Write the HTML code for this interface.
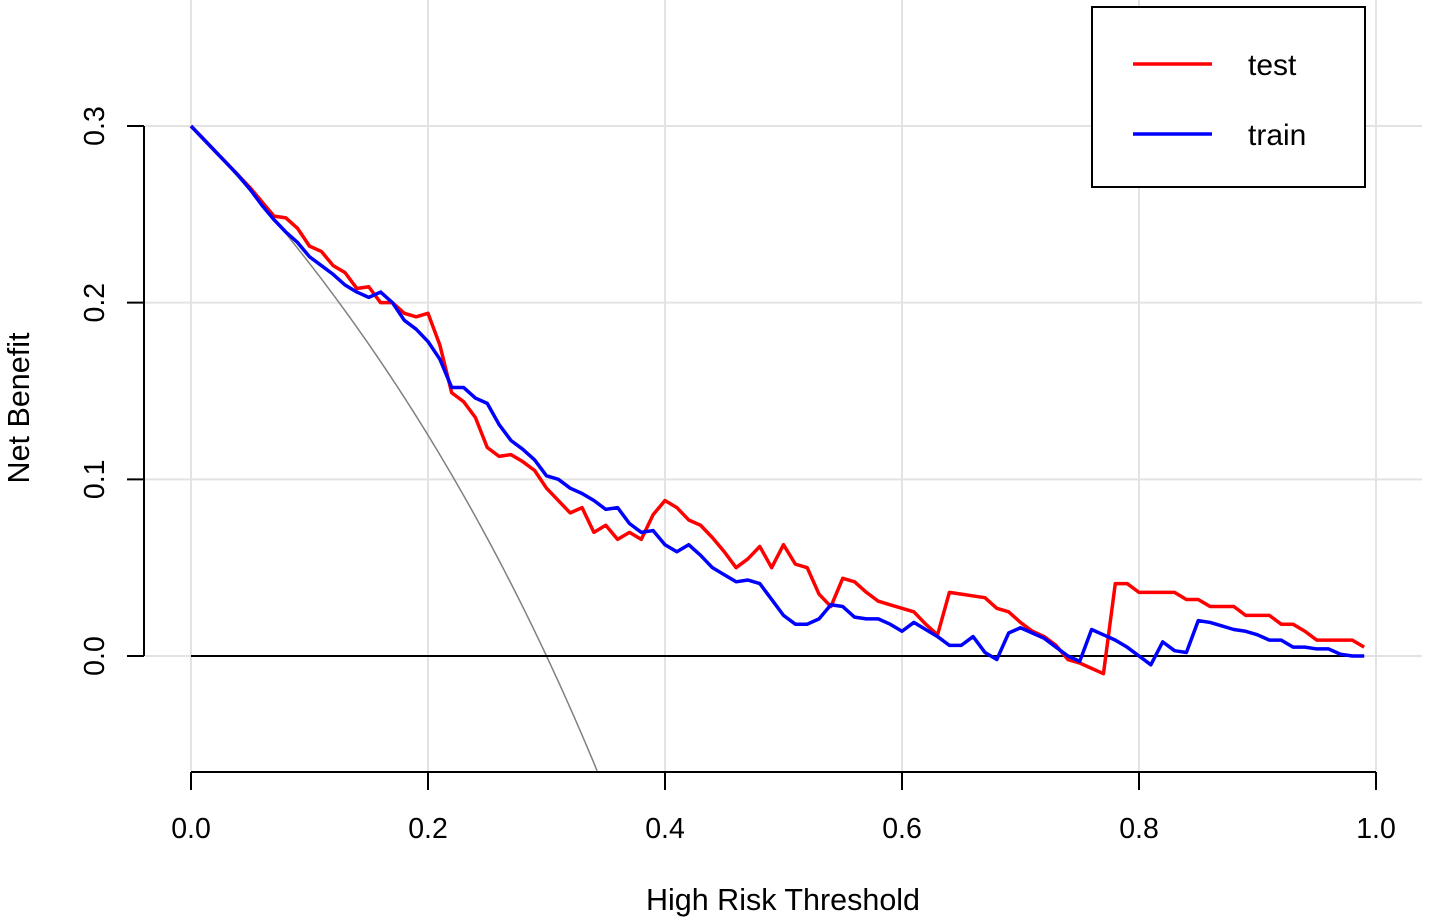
<!DOCTYPE html>
<html><head><meta charset="utf-8"><style>
html,body{margin:0;padding:0;background:#fff;}
svg{display:block;font-family:"Liberation Sans",Arial,sans-serif;}
</style></head><body>
<svg id="chart" width="1429" height="922" viewBox="0 0 1429 922" xmlns="http://www.w3.org/2000/svg">
<g id="grid"></g>
<g id="curves"></g>
<g id="axes"></g>
<text transform="translate(29,408) rotate(-90)" text-anchor="middle" font-size="30.5">Net Benefit</text>
<text x="783" y="910" text-anchor="middle" font-size="30.5">High Risk Threshold</text>
<g>
<rect x="1092" y="7" width="273" height="180" fill="#fff" stroke="#000" stroke-width="2"/>
<line x1="1133" y1="64" x2="1212" y2="64" stroke="#ff0000" stroke-width="3.5"/>
<text x="1248" y="75" font-size="30">test</text>
<line x1="1133" y1="134" x2="1212" y2="134" stroke="#0000ff" stroke-width="3.5"/>
<text x="1248" y="145" font-size="30">train</text>
</g>
</svg>
<script>
const thresholds = Array.from({length:100},(_, i)=>i/100);
const testValues = [0.3,0.293,0.286,0.279,0.272,0.265,0.257,0.249,0.248,0.242,0.232,0.229,0.221,0.217,0.208,0.209,0.2,0.2,0.194,0.192,0.194,0.176,0.149,0.144,0.135,0.118,0.113,0.114,0.11,0.105,0.095,0.088,0.081,0.084,0.07,0.074,0.066,0.07,0.066,0.08,0.088,0.084,0.077,0.074,0.067,0.059,0.05,0.055,0.062,0.05,0.063,0.052,0.05,0.035,0.028,0.044,0.042,0.036,0.031,0.029,0.027,0.025,0.018,0.012,0.036,0.035,0.034,0.033,0.027,0.025,0.019,0.014,0.011,0.006,-0.002,-0.004,-0.007,-0.01,0.041,0.041,0.036,0.036,0.036,0.036,0.032,0.032,0.028,0.028,0.028,0.023,0.023,0.023,0.018,0.018,0.014,0.009,0.009,0.009,0.009,0.005];
const trainValues = [0.3,0.293,0.286,0.279,0.272,0.264,0.255,0.247,0.24,0.234,0.226,0.221,0.216,0.21,0.206,0.203,0.206,0.2,0.19,0.185,0.178,0.168,0.152,0.152,0.146,0.143,0.131,0.122,0.117,0.111,0.102,0.1,0.095,0.092,0.088,0.083,0.084,0.075,0.07,0.071,0.063,0.059,0.063,0.057,0.05,0.046,0.042,0.043,0.041,0.032,0.023,0.018,0.018,0.021,0.029,0.028,0.022,0.021,0.021,0.018,0.014,0.019,0.015,0.011,0.006,0.006,0.011,0.002,-0.002,0.013,0.016,0.013,0.01,0.005,0,-0.003,0.015,0.012,0.009,0.005,0,-0.005,0.008,0.003,0.002,0.02,0.019,0.017,0.015,0.014,0.012,0.009,0.009,0.005,0.005,0.004,0.004,0.001,0,0];
const prevalence = 0.3;
const xTicks = [0,0.2,0.4,0.6,0.8,1.0];
const xTickLabels = ["0.0","0.2","0.4","0.6","0.8","1.0"];
const yTicks = [0,0.1,0.2,0.3];
const yTickLabels = ["0.0","0.1","0.2","0.3"];
const yMin = -0.065;

const X = v => 191 + v*1185;
const Y = v => 656 - v*(530/0.3);
const NS = "http://www.w3.org/2000/svg";
function mk(tag, attrs, parent){const e=document.createElementNS(NS,tag);for(const k in attrs)e.setAttribute(k,attrs[k]);parent.appendChild(e);return e;}
const grid=document.getElementById('grid'), curves=document.getElementById('curves'), axes=document.getElementById('axes');

xTicks.forEach(t=>{const l=mk('line',{x1:X(t),y1:0,x2:X(t),y2:771,stroke:'#e3e3e3','stroke-width':2},grid);

});
yTicks.forEach(t=>{const l=mk('line',{x1:145,y1:Y(t),x2:1422,y2:Y(t),stroke:'#e3e3e3','stroke-width':2},grid);

});

let allPts=[];
for(let t=0;t<=0.5;t+=0.002){let v=prevalence-(1-prevalence)*t/(1-t); if(v<yMin){const tt=(prevalence-yMin)/(1-yMin); allPts.push([X(tt),Y(yMin)]);break;} allPts.push([X(t),Y(v)]);}
const all=mk('polyline',{points:allPts.map(p=>p.join(',')).join(' '),fill:'none',stroke:'#808080','stroke-width':1.5},curves);


const none=mk('line',{x1:X(0),y1:Y(0),x2:X(0.99),y2:Y(0),stroke:'#000','stroke-width':2},curves);



function series(vals,color,name){const p=mk('polyline',{points:vals.map((v,i)=>X(thresholds[i])+','+Y(v)).join(' '),fill:'none',stroke:color,'stroke-width':3.5,'stroke-linejoin':'round'},curves);

}
series(testValues,'#ff0000','test-curve');
series(trainValues,'#0000ff','train-curve');

const ya=mk('line',{x1:144,y1:Y(0.3),x2:144,y2:Y(0),stroke:'#000','stroke-width':2},axes);


const xa=mk('line',{x1:X(0),y1:772,x2:X(1),y2:772,stroke:'#000','stroke-width':2},axes);


yTicks.forEach((t,i)=>{const l=mk('line',{x1:127,y1:Y(t),x2:144,y2:Y(t),stroke:'#000','stroke-width':2},axes);


const tx=mk('text',{transform:`translate(104,${Y(t)}) rotate(-90)`,'text-anchor':'middle','font-size':28.5},axes);
tx.textContent=yTickLabels[i];

});
xTicks.forEach((t,i)=>{const l=mk('line',{x1:X(t),y1:772,x2:X(t),y2:790,stroke:'#000','stroke-width':2},axes);


const tx=mk('text',{x:X(t),y:838,'text-anchor':'middle','font-size':28.5},axes);
tx.textContent=xTickLabels[i];

});
</script>
</body></html>
